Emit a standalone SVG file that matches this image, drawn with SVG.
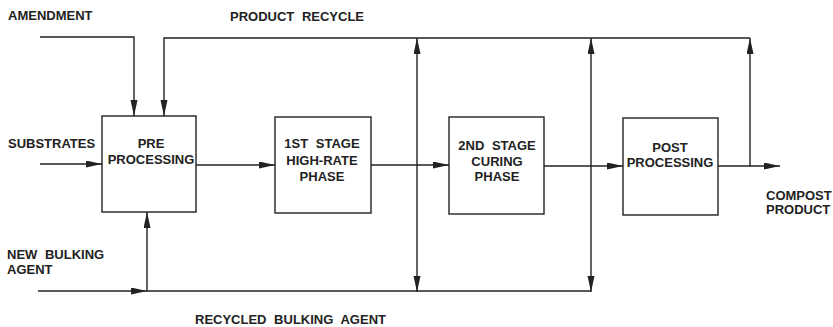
<svg xmlns="http://www.w3.org/2000/svg" width="833" height="327" viewBox="0 0 833 327">
<defs>
<style>
.box{fill:#fff;stroke:#222;stroke-width:1.4}
.ln{fill:none;stroke:#222;stroke-width:1.4}
.t{font-family:"Liberation Sans",Arial,sans-serif;font-weight:bold;font-size:13px;fill:#222;word-spacing:4px}
.c{text-anchor:middle}
</style>
<marker id="ah" markerUnits="userSpaceOnUse" markerWidth="17" markerHeight="8" refX="16" refY="3.5" orient="auto-start-reverse">
<path d="M0,0 L16,3.5 L0,7 Z" fill="#222"/>
</marker>
</defs>
<rect width="833" height="327" fill="#fff"/>
<g id="connectors">
<path class="ln" d="M40,37 H134 V116" marker-end="url(#ah)"/>
<path class="ln" d="M750,38 H164 V116" marker-end="url(#ah)"/>
<path class="ln" d="M40,164 H102" marker-end="url(#ah)"/>
<path class="ln" d="M196,165 H275" marker-end="url(#ah)"/>
<path class="ln" d="M371,165 H449" marker-end="url(#ah)"/>
<path class="ln" d="M544,166 H623" marker-end="url(#ah)"/>
<path class="ln" d="M718,166 H780" marker-end="url(#ah)"/>
<path class="ln" d="M750,166 V38" marker-end="url(#ah)"/>
<path class="ln" d="M417,38 V292" marker-start="url(#ah)" marker-end="url(#ah)"/>
<path class="ln" d="M591,38 V292" marker-start="url(#ah)" marker-end="url(#ah)"/>
<path class="ln" d="M38,291 H147" marker-end="url(#ah)"/>
<path class="ln" d="M147,291 H591"/>
<path class="ln" d="M147,291 V212" marker-end="url(#ah)"/>
</g>
<g id="pre">
<rect class="box" x="102" y="116" width="94" height="96"/>
<text class="t c" x="151" y="148">PRE</text>
<text class="t c" x="151" y="164">PROCESSING</text>
</g>
<g id="stage1">
<rect class="box" x="275" y="117" width="96" height="96"/>
<text class="t c" x="322" y="148">1ST STAGE</text>
<text class="t c" x="322" y="165">HIGH-RATE</text>
<text class="t c" x="322" y="181">PHASE</text>
</g>
<g id="stage2">
<rect class="box" x="449" y="117" width="95" height="97"/>
<text class="t c" x="497" y="150">2ND STAGE</text>
<text class="t c" x="497" y="166">CURING</text>
<text class="t c" x="497" y="181">PHASE</text>
</g>
<g id="post">
<rect class="box" x="623" y="118" width="95" height="97"/>
<text class="t c" x="670" y="152">POST</text>
<text class="t c" x="670" y="167">PROCESSING</text>
</g>
<g id="labels">
<text class="t" x="8" y="20">AMENDMENT</text>
<text class="t" x="230" y="21">PRODUCT RECYCLE</text>
<text class="t" x="8" y="148">SUBSTRATES</text>
<text class="t" x="7" y="259">NEW BULKING</text>
<text class="t" x="7" y="274">AGENT</text>
<text class="t" x="195" y="324">RECYCLED BULKING AGENT</text>
<text class="t" x="766" y="200">COMPOST</text>
<text class="t" x="766" y="214">PRODUCT</text>
</g>
</svg>
